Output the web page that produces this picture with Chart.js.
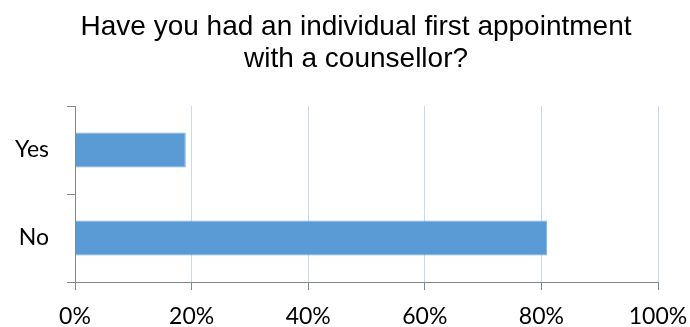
<!DOCTYPE html>
<html>
<head>
<meta charset="utf-8">
<script src="https://cdn.jsdelivr.net/npm/chart.js@4"></script>
<style>
  html, body { margin: 0; padding: 0; background: #fff; }
  #wrap { width: 690px; height: 327px; }
</style>
</head>
<body>
<div id="wrap"><canvas id="chart" width="690" height="327"></canvas></div>
<script>
const categories = ["Yes", "No"];
const shares = [19, 81];
const tickValues = [0, 20, 40, 60, 80, 100];
const titleLines = ["Have you had an individual first appointment", "with a counsellor?"];

// title is drawn by hand so it can sit off-centre like the original
const titlePlugin = {
    id: "titleLines",
    afterDraw(c) {
        const ctx = c.ctx;
        ctx.save();
        ctx.fillStyle = "#000";
        ctx.font = "28px 'Liberation Sans', Arial, sans-serif";
        ctx.textAlign = "center";
        ctx.textBaseline = "alphabetic";
        ctx.fillText(titleLines[0], 356, 35);
        ctx.fillText(titleLines[1], 356, 67);
        ctx.restore();
    }
};

new Chart(document.getElementById("chart"), {
    type: "bar",
    data: {
        labels: categories,
        datasets: [{
            data: shares,
            backgroundColor: "#5b9bd5",
            borderColor: "#7aaedf",
            borderWidth: 1,
            barPercentage: 0.4,
            categoryPercentage: 1
        }]
    },
    options: {
        indexAxis: "y",
        responsive: false,
        animation: false,
        layout: { padding: { top: 106, right: 32, left: 0, bottom: 0 } },
        plugins: {
            legend: { display: false },
            title: { display: false },
            tooltip: { enabled: false }
        },
        scales: {
            x: {
                min: 0,
                max: 100,
                afterBuildTicks: s => { s.ticks = tickValues.map(v => ({ value: v })); },
                afterFit: s => {
                    s.height = 45;
                    s.paddingLeft = 0;
                    s.paddingRight = 0;
                },
                grid: {
                    color: "#c5d9f1",
                    tickColor: "#868686",
                    tickLength: 8
                },
                border: { color: "#868686" },
                ticks: {
                    color: "#000",
                    padding: 13,
                    font: { family: "Lato", size: 23 },
                    callback: v => v + "%"
                }
            },
            y: {
                afterFit: s => {
                    s.width = 75;
                    s.paddingTop = 0;
                    s.paddingBottom = 0;
                },
                grid: {
                    drawOnChartArea: false,
                    tickColor: "#868686",
                    tickLength: 8
                },
                border: { color: "#868686" },
                ticks: {
                    color: "#000",
                    padding: 18,
                    font: { family: "Lato", size: 23 }
                }
            }
        }
    },
    plugins: [titlePlugin]
});
</script>
</body>
</html>
